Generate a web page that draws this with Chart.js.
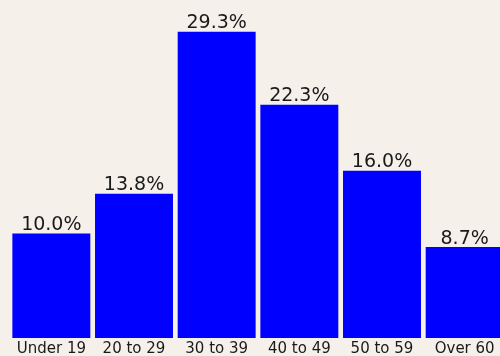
<!DOCTYPE html>
<html>
<head>
<meta charset="utf-8">
<script src="https://cdn.jsdelivr.net/npm/chart.js@4/dist/chart.umd.min.js"></script>
<style>
  html, body { margin: 0; padding: 0; background: #f5f0ea; overflow: hidden; }
  #wrap { width: 506px; height: 356px; position: relative; }
</style>
</head>
<body>
<div id="wrap"><canvas id="c" width="506" height="356"></canvas></div>
<script>
const categories = ["Under 19", "20 to 29", "30 to 39", "40 to 49", "50 to 59", "Over 60"];
const values = [10.0, 13.8, 29.3, 22.3, 16.0, 8.7];
const valueLabels = ["10.0%", "13.8%", "29.3%", "22.3%", "16.0%", "8.7%"];

const labelPlugin = {
  id: 'valueLabels',
  afterDatasetsDraw(chart) {
    const ctx = chart.ctx;
    const meta = chart.getDatasetMeta(0);
    ctx.save();
    ctx.font = '19px "DejaVu Sans"';
    ctx.fillStyle = '#1a1a1a';
    ctx.textAlign = 'center';
    ctx.textBaseline = 'alphabetic';
    meta.data.forEach((bar, i) => {
      ctx.fillText(valueLabels[i], bar.x, bar.y - 3.5);
    });
    ctx.restore();
  }
};

new Chart(document.getElementById('c'), {
  type: 'bar',
  data: {
    labels: categories,
    datasets: [{
      data: values,
      backgroundColor: '#0000ff',
      borderWidth: 0,
      barPercentage: 0.943,
      categoryPercentage: 1.0
    }]
  },
  options: {
    responsive: false,
    animation: false,
    layout: { padding: { left: 10, right: 0, top: 1, bottom: 0 } },
    plugins: { legend: { display: false }, tooltip: { enabled: false } },
    scales: {
      x: {
        grid: { display: false, drawTicks: false },
        border: { display: false },
        ticks: { color: '#1a1a1a', font: { family: 'DejaVu Sans', size: 15 }, padding: 2.5, maxRotation: 0, autoSkip: false },
        afterFit(scale) { scale.height = 18; }
      },
      y: {
        display: false,
        min: 0,
        max: 32.23
      }
    }
  },
  plugins: [labelPlugin]
});
</script>
</body>
</html>
